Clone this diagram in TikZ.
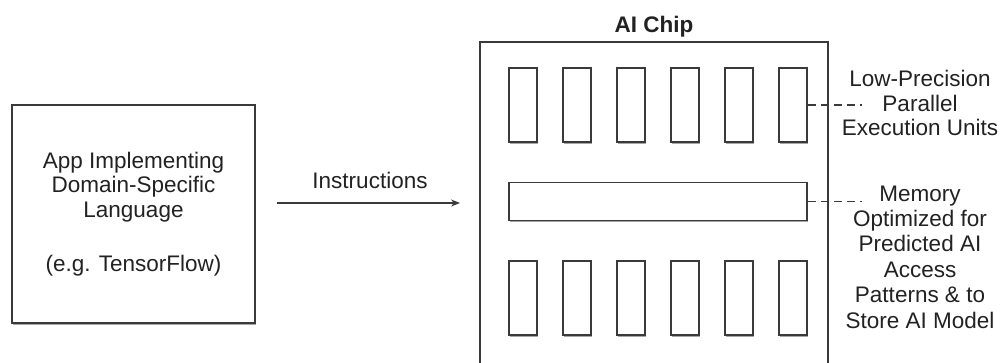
\documentclass[tikz,border=0pt]{standalone}
\usepackage{fontspec}
\setmainfont{Liberation Sans}
\usetikzlibrary{arrows.meta,shadows}
\definecolor{ink}{HTML}{222222}
\definecolor{edge}{HTML}{3A3A3A}
\begin{document}
\begin{tikzpicture}[x=1pt,y=-1pt,
  every node/.style={text=ink,font=\fontsize{22.5}{24.5}\selectfont},
  box/.style={draw=edge,line width=1.6pt,fill=white,
    drop shadow={shadow xshift=1.2pt,shadow yshift=-1.8pt,opacity=0.35,fill=black}},
  unit/.style={box,minimum width=28pt,minimum height=74.5pt,inner sep=0pt},
  lead/.style={draw=edge,line width=1.3pt,dash pattern=on 8pt off 5pt},
  lbl/.style={align=center,inner sep=0pt}]
\useasboundingbox (0,0) rectangle (1001,363);
\clip (0,0) rectangle (1001,363);
\fill[white] (0,0) rectangle (1001,363);
% left app box
\node[box,minimum width=243pt,minimum height=218pt,align=center,inner sep=0pt] (app) at (133.5,214)
  {App Implementing\\Domain-Specific\\Language\\[30pt](e.g. TensorFlow)};
% chip
\node[box,minimum width=348pt,minimum height=360pt,inner sep=0pt] (chip) at (654,222) {};
\node[font=\fontsize{22.5}{24.5}\selectfont\bfseries,inner sep=0pt] (title) at (654,27) {AI Chip};
% arrow
\coordinate (astart) at (277,203);
\coordinate (aend) at (460,203);
\draw[draw=edge,line width=1.3pt,-{Stealth[length=9pt,width=7pt]}] (astart) -- (aend);
\node[inner sep=0pt] (instr) at (370,180) {Instructions};
% top units
\foreach \i/\x in {1/523,2/577,3/631,4/685,5/739,6/793}{
  \node[unit] (t\i) at (\x,105) {};
  \node[unit] (b\i) at (\x,298) {};
}
% memory
\node[box,minimum width=298pt,minimum height=38pt,inner sep=0pt] (mem) at (658,201.5) {};
% leaders
\coordinate (te) at (862,105);
\coordinate (me) at (862,201.5);
\draw[lead] (t6.east) -- (te);
\draw[lead] (mem.east) -- (me);
\node[lbl] (exlbl) at (920,103) {Low-Precision\\Parallel\\Execution Units};
\node[lbl,font=\fontsize{22.5}{25.4}\selectfont] (memlbl) at (920,257) {Memory\\Optimized for\\Predicted AI\\Access\\Patterns \& to\\Store AI Model};
\end{tikzpicture}
\end{document}
